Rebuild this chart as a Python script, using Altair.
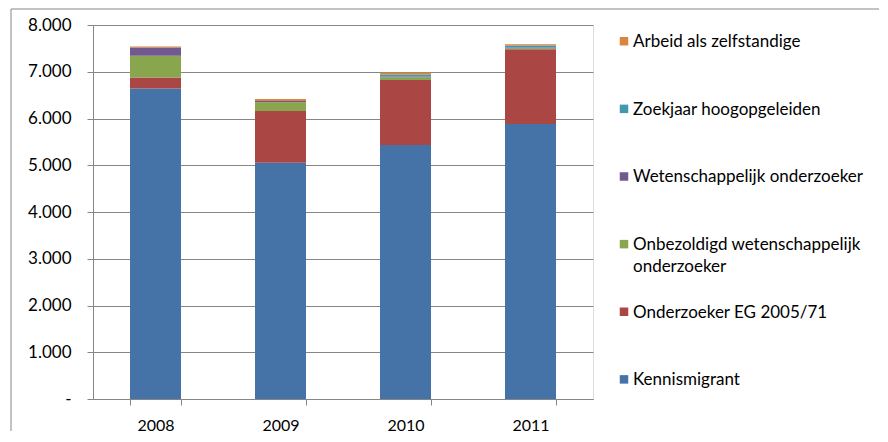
import altair as alt
import pandas as pd

years = ["2008", "2009", "2010", "2011"]
series = [
    "Kennismigrant",
    "Onderzoeker EG 2005/71",
    "Onbezoldigd wetenschappelijk onderzoeker",
    "Wetenschappelijk onderzoeker",
    "Zoekjaar hoogopgeleiden",
    "Arbeid als zelfstandige",
]
legend_labels = [
    "Kennismigrant",
    "Onderzoeker EG 2005/71",
    "Onbezoldigd wetenschappelijk\nonderzoeker",
    "Wetenschappelijk onderzoeker",
    "Zoekjaar hoogopgeleiden",
    "Arbeid als zelfstandige",
]
colors = ["#4572A7", "#AA4643", "#89A54E", "#71588F", "#4198AF", "#DB843D"]

kennismigrant = [6640, 5055, 5435, 5880]
onderzoeker_eg = [235, 1105, 1390, 1600]
onbezoldigd = [465, 185, 60, 25]
wetenschappelijk = [178, 28, 15, 15]
zoekjaar = [0, 0, 43, 40]
arbeid = [22, 43, 43, 30]

values = [kennismigrant, onderzoeker_eg, onbezoldigd, wetenschappelijk, zoekjaar, arbeid]

rows = []
for i, (s, vals) in enumerate(zip(series, values)):
    for y, v in zip(years, vals):
        rows.append({"year": y, "series": s, "value": v, "idx": i})
df = pd.DataFrame(rows)

leg_df = pd.DataFrame({"series": series, "label": legend_labels, "rank": list(range(len(series)))})

GRAY = "#868686"
FONT = "Lato"

color_scale = alt.Scale(domain=series, range=colors)

bars = alt.Chart(df).mark_bar().encode(
    x=alt.X(
        "year:N",
        sort=years,
        scale=alt.Scale(paddingInner=0.592, paddingOuter=0.296),
        axis=alt.Axis(
            title=None, labelAngle=0, tickBand="extent", tickSize=6,
            tickColor=GRAY, domainColor=GRAY, labelPadding=12,
            labelFontSize=16, labelFont=FONT, labelColor="black", grid=False,
        ),
    ),
    y=alt.Y(
        "value:Q",
        stack="zero",
        scale=alt.Scale(domain=[0, 8000], nice=False),
        axis=alt.Axis(
            title=None, values=list(range(0, 8001, 1000)),
            labelExpr="datum.value == 0 ? '-\u00a0\u00a0' : replace(format(datum.value, ','), ',', '.')",
            grid=True, gridColor=GRAY, tickColor=GRAY, domainColor=GRAY,
            tickSize=6, labelPadding=16, labelFontSize=17, labelFont=FONT,
            labelColor="black",
        ),
    ),
    color=alt.Color("series:N", scale=color_scale, legend=None),
    order=alt.Order("idx:Q", sort="ascending"),
)

leg_y = alt.Y("rank:Q", scale=alt.Scale(domain=[-0.29, 5.24], nice=False, zero=False), axis=None)

leg_sq = alt.Chart(leg_df).mark_square(size=72, opacity=1).encode(
    x=alt.value(531),
    y=leg_y,
    color=alt.Color("series:N", scale=color_scale, legend=None),
)

leg_txt = alt.Chart(leg_df).mark_text(
    align="left", baseline="top", dy=-7, lineBreak="\n", lineHeight=22,
    fontSize=17, font=FONT, color="black",
).encode(
    x=alt.value(540),
    y=leg_y,
    text="label:N",
)

one = pd.DataFrame({"a": [0]})
border_left = alt.Chart(one).mark_rule(color=GRAY, strokeWidth=1).encode(
    x=alt.value(-82), y=alt.value(-16), y2=alt.value(406)
)
border_top = alt.Chart(one).mark_rule(color=GRAY, strokeWidth=1).encode(
    x=alt.value(-82), x2=alt.value(786), y=alt.value(-16)
)

chart = alt.layer(bars, leg_sq, leg_txt, border_left, border_top).resolve_scale(
    y="independent"
).properties(
    width=500, height=374,
    padding={"left": 2, "top": 0, "right": 0, "bottom": 0},
).configure_view(stroke=None).configure(font=FONT)

chart.save("out.html", embed_options={"renderer": "svg", "actions": False})
